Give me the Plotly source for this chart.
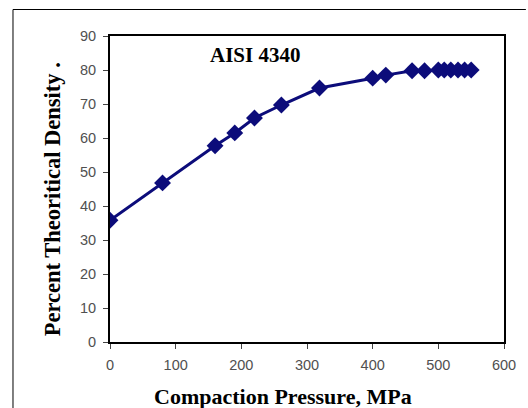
import plotly.graph_objects as go

pressure = [0, 80, 160, 190, 220, 261, 319, 400, 420, 460, 479, 500, 509, 519, 530, 540, 550]
density = [35.8, 46.8, 57.7, 61.5, 65.9, 69.7, 74.7, 77.6, 78.5, 79.8, 79.8, 80, 80, 80, 80, 80, 80]
x_ticks = [0, 100, 200, 300, 400, 500, 600]
y_ticks = [0, 10, 20, 30, 40, 50, 60, 70, 80, 90]

W, H = 528, 408
L, R, T, B = 110, 22, 36, 66
pw, ph = W - L - R, H - T - B

def px(xp):
    return (xp - L) / pw

def py(yp):
    return (H - B - yp) / ph

fig = go.Figure()
fig.add_trace(go.Scatter(
    x=pressure, y=density, mode="lines+markers",
    line=dict(color="#0c0c7a", width=3),
    marker=dict(symbol="diamond", size=13, color="#0c0c7a"),
    showlegend=False,
))

axis_common = dict(
    showgrid=False, zeroline=False, showline=True, linecolor="black", linewidth=2,
    mirror=True, ticks="outside", ticklen=5, tickwidth=1, tickcolor="#444",
    ticklabelstandoff=4,
    tickfont=dict(family="Liberation Sans, Arial", size=14.5, color="#505050"),
)
fig.update_xaxes(range=[0, 600], tickvals=x_ticks, **axis_common)
fig.update_yaxes(range=[0, 90], tickvals=y_ticks, **axis_common)

serif = "Liberation Serif, Times New Roman"
fig.add_annotation(text="<b>AISI 4340</b>", xref="paper", yref="paper",
                   x=px(256), y=py(55), xanchor="center", yanchor="middle", showarrow=False,
                   font=dict(family=serif, size=21, color="black"))
fig.add_annotation(text="<b>Compaction Pressure, MPa</b>", xref="paper", yref="paper",
                   x=px(284), y=py(396), xanchor="center", yanchor="middle", showarrow=False,
                   font=dict(family=serif, size=22, color="black"))
fig.add_annotation(text="<b>Percent Theoritical Density .</b>", xref="paper", yref="paper",
                   x=px(52), y=py(199), xanchor="center", yanchor="middle", showarrow=False,
                   textangle=-90, font=dict(family=serif, size=22.5, color="black"))

# outer picture frame (left and top edges visible in the reference)
fig.add_shape(type="line", xref="paper", yref="paper",
              x0=px(12.5), y0=py(9.5), x1=px(528), y1=py(9.5),
              line=dict(color="black", width=1), layer="below")
fig.add_shape(type="line", xref="paper", yref="paper",
              x0=px(12.5), y0=py(9.5), x1=px(12.5), y1=py(408),
              line=dict(color="black", width=1), layer="below")

fig.update_layout(
    width=W, height=H, margin=dict(l=L, r=R, t=T, b=B),
    paper_bgcolor="white", plot_bgcolor="white",
)
fig.write_html("out.html", config={"displayModeBar": False},
               post_script="document.body.style.margin='0';document.body.style.overflow='hidden';")
